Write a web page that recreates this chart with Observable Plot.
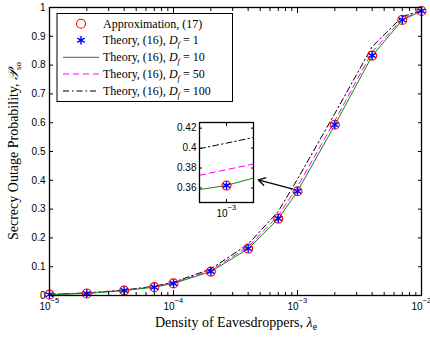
<!DOCTYPE html>
<html><head><meta charset="utf-8">
<script src="https://cdn.jsdelivr.net/npm/d3@7"></script>
<script src="https://cdn.jsdelivr.net/npm/@observablehq/plot@0.6"></script>
<style>
html,body{margin:0;padding:0;background:#fff;}
#wrap{position:relative;width:430px;height:337px;overflow:hidden;}
#wrap svg{position:absolute;}
</style></head><body><div id="wrap"></div>
<script>
// ---- data ----
const lambdaE = [1e-5, 2e-5, 4e-5, 7e-5, 1e-4, 2e-4, 4e-4, 7e-4, 1e-3, 2e-3, 4e-3, 7e-3, 1e-2];
const approx17   = [0.003, 0.007, 0.017, 0.029, 0.042, 0.083, 0.163, 0.267, 0.362, 0.593, 0.833, 0.957, 0.988];
const theoryD1   = [0.003, 0.007, 0.017, 0.029, 0.042, 0.083, 0.163, 0.267, 0.362, 0.593, 0.833, 0.957, 0.988];
const theoryD10  = [0.003, 0.007, 0.017, 0.029, 0.042, 0.083, 0.162, 0.266, 0.362, 0.592, 0.832, 0.956, 0.988];
const theoryD50  = [0.004, 0.008, 0.018, 0.030, 0.044, 0.087, 0.169, 0.277, 0.378, 0.607, 0.845, 0.961, 0.989];
const theoryD100 = [0.004, 0.009, 0.019, 0.032, 0.046, 0.092, 0.178, 0.292, 0.404, 0.632, 0.864, 0.968, 0.990];
const yTicks = [0, 0.1, 0.2, 0.3, 0.4, 0.5, 0.6, 0.7, 0.8, 0.9, 1];
const xMajorTicks = [1e-5, 1e-4, 1e-3, 1e-2];
const xMinorTicks = [2e-5,3e-5,4e-5,5e-5,6e-5,7e-5,8e-5,9e-5,
                     2e-4,3e-4,4e-4,5e-4,6e-4,7e-4,8e-4,9e-4,
                     2e-3,3e-3,4e-3,5e-3,6e-3,7e-3,8e-3,9e-3];
const legendLabels = ["Approximation, (17)", "Theory, (16), ", "Theory, (16), ", "Theory, (16), ", "Theory, (16), "];
const legendDf = [null, "1", "10", "50", "100"];
// inset (zoom around lambda_e = 1e-3)
const insetX     = [0.000988, 0.001, 0.001012];
const insetD10   = [0.3584, 0.3625, 0.3700];
const insetD50   = [0.3727, 0.3784, 0.3840];
const insetD100  = [0.3994, 0.4050, 0.4107];
const insetMarkX = [0.001];
const insetMarkY = [0.3624];
const insetYTicks = [0.36, 0.38, 0.40, 0.42];
const insetXTicks = [0.001];
// arrow annotation (data coordinates)
const arrowFrom = [9.06e-4, 0.3705];
const arrowTo   = [4.82e-4, 0.4017];

const colGreen = "#108a10", colMag = "#ff00ff";
const dashMag = "6,4", dashBlk = "6,3,1.5,3";
const rows = arr => lambdaE.map((x, i) => ({x, y: arr[i]}));
const irows = arr => insetX.map((x, i) => ({x, y: arr[i]}));
const fmtY = d => String(+d.toFixed(2));
const sans = "'Liberation Sans', Arial, Helvetica, sans-serif";
const serif = "'Liberation Serif', 'Times New Roman', serif";

const main = Plot.plot({
  width: 430, height: 337,
  marginTop: 7, marginRight: 9, marginBottom: 42, marginLeft: 49,
  x: {type: "log", domain: [1e-5, 1e-2]},
  y: {domain: [0, 1]},
  style: {fontFamily: sans, fontSize: "10px", background: "white", color: "black"},
  marks: [
    Plot.line(rows(theoryD100), {x: "x", y: "y", stroke: "black", strokeWidth: 1, strokeDasharray: dashBlk}),
    Plot.line(rows(theoryD50), {x: "x", y: "y", stroke: colMag, strokeWidth: 1, strokeDasharray: dashMag}),
    Plot.line(rows(theoryD10), {x: "x", y: "y", stroke: colGreen, strokeWidth: 1}),
    Plot.dot(rows(approx17), {x: "x", y: "y", r: 4.5, stroke: "red", strokeWidth: 1.1}),
    Plot.dot(rows(theoryD1), {x: "x", y: "y", r: 4, symbol: "asterisk", stroke: "blue", strokeWidth: 1.4}),
    Plot.arrow([0], {x1: () => arrowFrom[0], y1: () => arrowFrom[1], x2: () => arrowTo[0], y2: () => arrowTo[1],
      stroke: "black", strokeWidth: 1.3, headLength: 9}),
    Plot.axisY({ticks: yTicks, tickSize: 0, tickPadding: 4, tickFormat: fmtY, label: null}),
    Plot.axisY({anchor: "left", ticks: yTicks, tickSize: -4, tickFormat: () => "", label: null}),
    Plot.axisY({anchor: "right", ticks: yTicks, tickSize: -4, tickFormat: () => "", label: null}),
    Plot.axisX({anchor: "bottom", ticks: xMajorTicks, tickSize: -5, tickFormat: () => "", label: null}),
    Plot.axisX({anchor: "top", ticks: xMajorTicks, tickSize: -5, tickFormat: () => "", label: null}),
    Plot.axisX({anchor: "bottom", ticks: xMinorTicks, tickSize: -3, tickFormat: () => "", label: null}),
    Plot.axisX({anchor: "top", ticks: xMinorTicks, tickSize: -3, tickFormat: () => "", label: null}),
    Plot.text(xMajorTicks, {x: d => d, text: () => "10", frameAnchor: "bottom", textAnchor: "end", dx: 1, dy: 14, fontSize: 10}),
    Plot.text(xMajorTicks, {x: d => d, text: d => "\u2212" + (-Math.round(Math.log10(d))), frameAnchor: "bottom", textAnchor: "start", dx: 1, dy: 7, fontSize: 7.5}),
    Plot.frame({stroke: "black", strokeWidth: 1.3})
  ]
});

const inset = Plot.plot({
  width: 100, height: 115,
  marginTop: 10, marginRight: 7, marginBottom: 25, marginLeft: 39,
  x: {type: "linear", domain: [0.000988, 0.001012]},
  y: {domain: [0.3454, 0.4257]},
  style: {fontFamily: sans, fontSize: "10px", background: "transparent", color: "black"},
  marks: [
    Plot.frame({fill: "white"}),
    Plot.line(irows(insetD100), {x: "x", y: "y", stroke: "black", strokeWidth: 1, strokeDasharray: dashBlk, clip: true}),
    Plot.line(irows(insetD50), {x: "x", y: "y", stroke: colMag, strokeWidth: 1, strokeDasharray: dashMag, clip: true}),
    Plot.line(irows(insetD10), {x: "x", y: "y", stroke: colGreen, strokeWidth: 1, clip: true}),
    Plot.dot(insetMarkX, {x: d => d, y: (d, i) => insetMarkY[i], r: 4.5, stroke: "red", strokeWidth: 1.1}),
    Plot.dot(insetMarkX, {x: d => d, y: (d, i) => insetMarkY[i], r: 4, symbol: "asterisk", stroke: "blue", strokeWidth: 1.4}),
    Plot.axisY({ticks: insetYTicks, tickSize: 0, tickPadding: 3, tickFormat: fmtY, label: null}),
    Plot.axisY({anchor: "left", ticks: insetYTicks, tickSize: -3, tickFormat: () => "", label: null}),
    Plot.axisY({anchor: "right", ticks: insetYTicks, tickSize: -3, tickFormat: () => "", label: null}),
    Plot.axisX({anchor: "bottom", ticks: insetXTicks, tickSize: -3, tickFormat: () => "", label: null}),
    Plot.axisX({anchor: "top", ticks: insetXTicks, tickSize: -3, tickFormat: () => "", label: null}),
    Plot.text(insetXTicks, {x: d => d, text: () => "10", frameAnchor: "bottom", textAnchor: "end", dx: 1, dy: 14.5, fontSize: 10}),
    Plot.text(insetXTicks, {x: d => d, text: d => "\u2212" + (-Math.round(Math.log10(d))), frameAnchor: "bottom", textAnchor: "start", dx: 1, dy: 7.5, fontSize: 7.5}),
    Plot.frame({stroke: "black", strokeWidth: 1.3})
  ]
});

const wrap = document.getElementById("wrap");
main.style.left = "0px"; main.style.top = "0px";
wrap.appendChild(main);
inset.style.left = "160px"; inset.style.top = "112px";
inset.style.background = "transparent";
wrap.appendChild(inset);

// axis titles
const svg = d3.select(main);
const xl = svg.append("text").attr("x", 236).attr("y", 327).attr("text-anchor", "middle")
  .attr("font-family", serif).attr("font-size", 14).attr("fill", "black");
xl.append("tspan").text("Density of Eavesdroppers, ");
xl.append("tspan").attr("font-style", "italic").text("\u03bb");
xl.append("tspan").attr("font-size", 10).attr("dy", 3).text("e");

const yl = svg.append("text").attr("transform", "translate(18,151) rotate(-90)").attr("text-anchor", "middle")
  .attr("font-family", serif).attr("font-size", 14).attr("fill", "black");
yl.append("tspan").text("Secrecy Outage Probability, ");
yl.append("tspan").attr("font-style", "italic").text("\ud835\udcab");
yl.append("tspan").attr("font-size", 9).attr("dy", 3).text("so");

// legend
const lg = svg.append("g").attr("font-family", serif).attr("font-size", 12).attr("text-anchor", "start");
lg.append("rect").attr("x", 57).attr("y", 13.5).attr("width", 175.5).attr("height", 88)
  .attr("fill", "white").attr("stroke", "black").attr("stroke-width", 1);
const rowY = [23.7, 40.3, 57.3, 74, 91];
const symArea = Math.PI * 16;
legendLabels.forEach((lab, i) => {
  const cy = rowY[i];
  if (i === 0) {
    lg.append("circle").attr("cx", 81).attr("cy", cy).attr("r", 4.5).attr("fill", "none").attr("stroke", "red").attr("stroke-width", 1.1);
  } else if (i === 1) {
    lg.append("path").attr("transform", `translate(81,${cy})`).attr("d", d3.symbol(d3.symbolAsterisk, symArea)())
      .attr("fill", "none").attr("stroke", "blue").attr("stroke-width", 1.4);
  } else {
    const st = [null, null, [colGreen, null], [colMag, dashMag], ["black", dashBlk]][i];
    lg.append("line").attr("x1", 63).attr("x2", 99).attr("y1", cy).attr("y2", cy)
      .attr("stroke", st[0]).attr("stroke-width", 1).attr("stroke-dasharray", st[1]);
  }
  const t = lg.append("text").attr("x", 103).attr("y", cy + 4).attr("fill", "black").attr("text-anchor", "start");
  t.append("tspan").text(lab);
  if (legendDf[i] !== null) {
    t.append("tspan").attr("font-style", "italic").text("D");
    t.append("tspan").attr("font-style", "italic").attr("font-size", 8.5).attr("dy", 3).text("f");
    t.append("tspan").attr("dy", -3).text(" = " + legendDf[i]);
  }
});
</script></body></html>
